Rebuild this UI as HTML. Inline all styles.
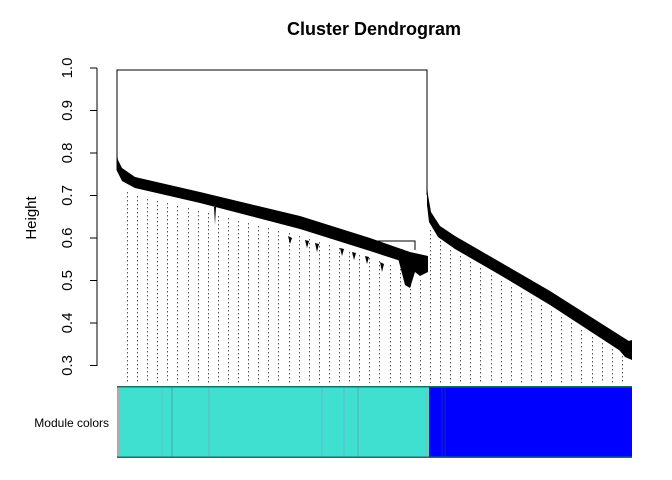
<!DOCTYPE html>
<html><head><meta charset="utf-8"><style>
html,body{margin:0;padding:0;background:#fff}
svg{display:block}
text{font-family:"Liberation Sans",sans-serif}
</style></head><body>
<svg width="672" height="480" viewBox="0 0 672 480" xmlns="http://www.w3.org/2000/svg">
<rect width="672" height="480" fill="#fff"/>
<text x="374" y="35" font-size="18" font-weight="bold" text-anchor="middle">Cluster Dendrogram</text>
<text transform="translate(36,218) rotate(-90)" font-size="15" text-anchor="middle">Height</text>
<g stroke="#000" stroke-width="1">
<line x1="97" y1="68" x2="97" y2="366"/>
<line x1="90" y1="68" x2="97" y2="68"/>
<line x1="90" y1="110.5" x2="97" y2="110.5"/>
<line x1="90" y1="153" x2="97" y2="153"/>
<line x1="90" y1="195.5" x2="97" y2="195.5"/>
<line x1="90" y1="238" x2="97" y2="238"/>
<line x1="90" y1="280.5" x2="97" y2="280.5"/>
<line x1="90" y1="323" x2="97" y2="323"/>
<line x1="90" y1="365.5" x2="97" y2="365.5"/>
</g>
<g font-size="15" text-anchor="middle">
<text transform="translate(72,68) rotate(-90)">1.0</text>
<text transform="translate(72,110.5) rotate(-90)">0.9</text>
<text transform="translate(72,153) rotate(-90)">0.8</text>
<text transform="translate(72,195.5) rotate(-90)">0.7</text>
<text transform="translate(72,238) rotate(-90)">0.6</text>
<text transform="translate(72,280.5) rotate(-90)">0.5</text>
<text transform="translate(72,323) rotate(-90)">0.4</text>
<text transform="translate(72,365.5) rotate(-90)">0.3</text>
</g>
<g stroke="#555" stroke-width="1" stroke-dasharray="1.5,2.5">
<path d="M127.5,192V383M137.5,196V383M147.5,199V383M157.5,201V383M167.5,203V383M177.5,206V383M188.5,208V383M198.5,211V383M208.5,213V383M218.5,216V383M228.5,218V383M238.5,221V383M248.5,223V383M258.5,226V383M268.5,228V383M278.5,231V383M289.5,233V383M299.5,236V383M309.5,239V383M319.5,242V383M329.5,245V383M339.5,248V383M349.5,252V383M359.5,255V383M369.5,258V383M379.5,261V383M390.5,265V383M400.5,269V383M410.5,277V383M420.5,280V383"/>
<path d="M430.5,230V383M440.5,241V383M450.5,250V383M460.5,256V383M470.5,262V383M480.5,268V383M491.5,275V383M501.5,281V383M511.5,287V383M521.5,293V383M531.5,299V383M541.5,305V383M551.5,311V383M561.5,317V383M571.5,323V383M581.5,330V383M592.5,337V383M602.5,343V383M612.5,349V383M622.5,356V383"/>
</g>
<path d="M117,160 L117,70 L427,70 L427,195" fill="none" stroke="#000" stroke-width="1"/>
<path d="M116.5,150 L118,160 L122,168 L135,177 L200,192 L300,216 L370,238 L410,252 L428,256 L428,268 L410,264 L370,251 L300,229 L200,203 L135,188 L122,181 L116.5,170 Z" fill="#000"/>
<path d="M360,241 L415,241 L415,250" fill="none" stroke="#000" stroke-width="1"/>
<path d="M398,258 L405,285 L410,288 L415,272 L420,276 L428,272 L428,260 Z" fill="#000"/>
<path d="M288,236 l2,8 l2,-6 z M305,240 l2,8 l2,-7 z M315,243 l2,9 l2,-8 z M340,248 l2,8 l2,-7 z M352,252 l2,8 l2,-7 z M365,256 l2,8 l2,-7 z M380,262 l2,10 l2,-8 z M214,207 l1,18 l1,-18 z" fill="#000"/>
<path d="M427,185 L428,195 L431,212 L440,226 L455,236 L500,262 L550,291 L632,343 L632,358 L625,354 L550,305 L500,275 L455,249 L438,237 L429,222 L427,205 Z" fill="#000"/>
<path d="M615,345 L625,357 L632,360 L632,340 Z" fill="#000"/>
<rect x="117" y="386" width="312" height="72" fill="#40E0D0"/>
<rect x="429" y="386" width="203" height="72" fill="#0000FF"/>
<rect x="117" y="386" width="2" height="72" fill="#aaa"/>
<g stroke-width="1">
<line x1="162" y1="386" x2="162" y2="458" stroke="#5fc9c4"/>
<line x1="172" y1="386" x2="172" y2="458" stroke="#3fa8a0"/>
<line x1="209" y1="386" x2="209" y2="458" stroke="#6ab0c0"/>
<line x1="322" y1="386" x2="322" y2="458" stroke="#6ab0d0"/>
<line x1="344" y1="386" x2="344" y2="458" stroke="#6ab0d0"/>
<line x1="358" y1="386" x2="358" y2="458" stroke="#5aa8b0"/>
<line x1="426" y1="386" x2="426" y2="458" stroke="#aaa"/>
<line x1="442" y1="386" x2="442" y2="458" stroke="#2222cc"/>
<line x1="445" y1="386" x2="445" y2="458" stroke="#2222cc"/>
</g>
<rect x="117" y="386" width="515" height="1.5" fill="#1a6f6a"/>
<rect x="117" y="456.5" width="515" height="1.5" fill="#1a6f6a"/>
<text x="109" y="427" font-size="12" text-anchor="end">Module colors</text>
</svg>
</body></html>
